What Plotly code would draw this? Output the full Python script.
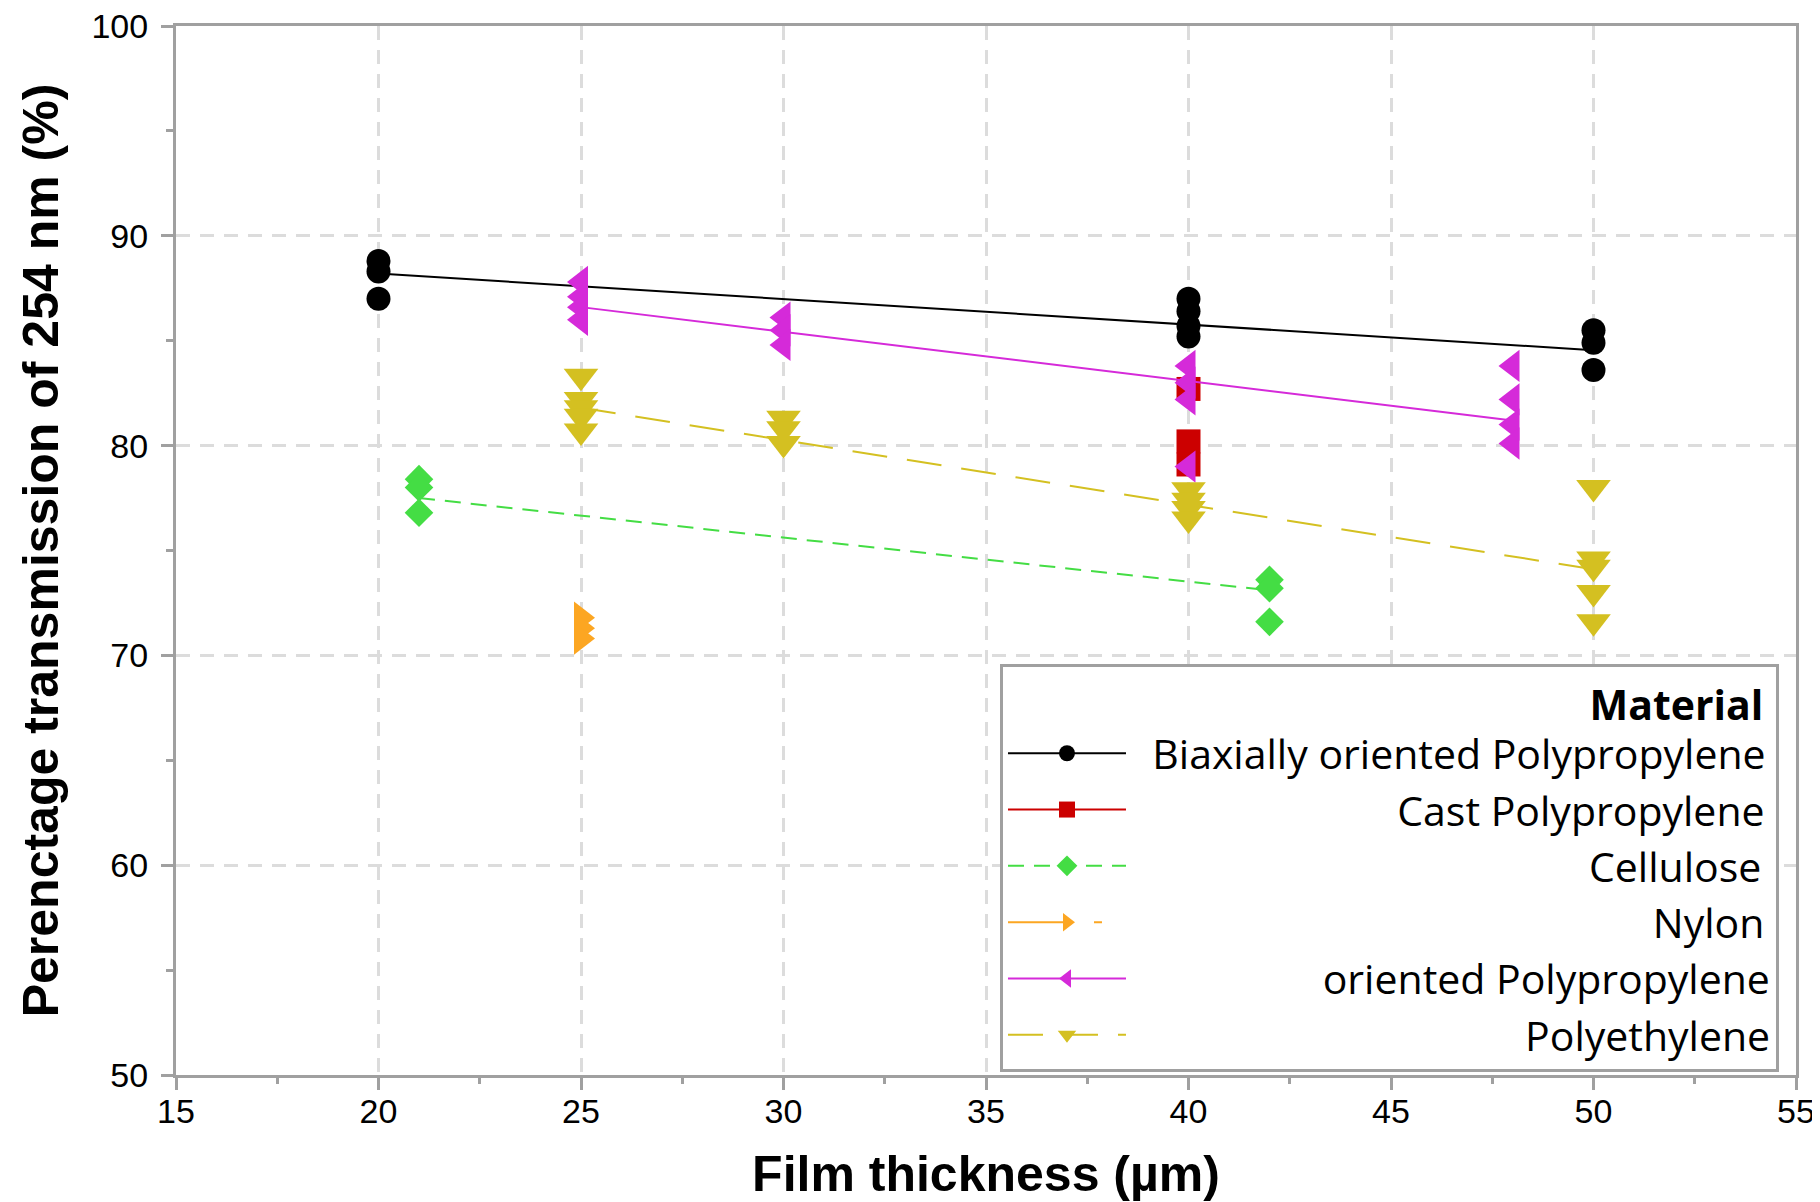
import plotly.graph_objects as go

# ---------------- data ----------------
materials = ["Biaxially oriented Polypropylene", "Cast Polypropylene", "Cellulose",
             "Nylon", "oriented Polypropylene", "Polyethylene"]

bopp_x = [20, 20, 20, 40, 40, 40, 40, 50, 50, 50]
bopp_y = [88.8, 88.3, 87.0, 87.0, 86.4, 85.7, 85.2, 85.5, 84.9, 83.6]
bopp_fit_x = [20, 50]
bopp_fit_y = [88.2, 84.55]

cpp_x = [40, 40, 40]
cpp_y = [82.7, 80.2, 79.1]

cell_x = [21, 21, 21, 42, 42, 42]
cell_y = [78.4, 78.0, 76.8, 73.6, 73.2, 71.6]
cell_fit_x = [21, 42]
cell_fit_y = [77.5, 73.1]

nylon_x = [25, 25, 25]
nylon_y = [71.8, 71.3, 70.8]

opp_x = [25, 25, 25, 25, 30, 30, 30, 40, 40, 40, 40, 48, 48, 48, 48]
opp_y = [87.8, 87.1, 86.6, 86.0, 86.1, 85.5, 84.8, 83.8, 83.0, 82.2, 79.0,
         83.8, 82.2, 81.0, 80.1]
opp_fit_x = [25, 48]
opp_fit_y = [86.6, 81.2]

pe_x = [25, 25, 25, 25, 25, 30, 30, 30, 40, 40, 40, 40, 50, 50, 50, 50, 50]
pe_y = [83.3, 82.2, 81.8, 81.4, 80.7, 81.3, 80.8, 80.1, 77.9, 77.4, 77.0, 76.5,
        78.0, 74.6, 74.2, 73.0, 71.6]
pe_fit_x = [25, 50]
pe_fit_y = [81.8, 74.1]

x_title = "Film thickness (µm)"
y_title = "Perenctage transmission of 254 nm (%)"
legend_title = "Material"

# ---------------- styles ----------------
colors = ["#000000", "#CC0000", "#44DD44", "#FCA622", "#D52AD9", "#D4C021"]
symbols = ["circle", "square", "diamond", "triangle-right", "triangle-left", "triangle-down"]
msizes = [24, 24, 22, 28, 28, 30]
dashes = ["solid", "solid", "16px,10px", "62px,24px,8px,30px", "solid", "35px,20px"]

FONT = "Liberation Sans, Arial, sans-serif"
LEG_FONT = "Open Sans, Liberation Sans, sans-serif"
LEG_FS = 41

# approximate Open Sans advance widths (per 1000 em) for right-aligning legend labels
W = {" ": 260, "B": 642, "C": 615, "N": 738, "P": 591, "a": 556, "d": 614, "e": 561,
     "i": 253, "l": 253, "n": 614, "o": 604, "p": 614, "r": 408, "s": 477, "t": 353,
     "u": 614, "x": 525, "y": 497, "h": 614}


def tw(s):
    return sum(W.get(c, 580) for c in s)


maxw = max(tw(m) for m in materials)


def padded(s):
    n = int(round((maxw - tw(s)) / W[" "]))
    return "\u00a0" * (n + 2) + s


fig = go.Figure()

groups = [
    (bopp_x, bopp_y, bopp_fit_x, bopp_fit_y),
    (cpp_x, cpp_y, None, None),
    (cell_x, cell_y, cell_fit_x, cell_fit_y),
    (nylon_x, nylon_y, None, None),
    (opp_x, opp_y, opp_fit_x, opp_fit_y),
    (pe_x, pe_y, pe_fit_x, pe_fit_y),
]

for i, (gx, gy, fx, fy) in enumerate(groups):
    if fx is not None:
        fig.add_trace(go.Scatter(
            x=fx, y=fy, mode="lines", showlegend=False, hoverinfo="skip",
            line=dict(color=colors[i], width=2, dash=dashes[i]),
            legendgroup=materials[i]))
    fig.add_trace(go.Scatter(
        x=gx, y=gy, mode="markers", showlegend=False, name=materials[i],
        marker=dict(symbol=symbols[i], size=msizes[i], color=colors[i], line=dict(width=0)),
        legendgroup=materials[i]))
    # legend entry (line + marker sample)
    fig.add_trace(go.Scatter(
        x=[None], y=[None], mode="lines+markers", name=padded(materials[i]),
        legendgroup=materials[i],
        line=dict(color=colors[i], width=2, dash=dashes[i]),
        marker=dict(symbol=symbols[i], size=16, color=colors[i], line=dict(width=0))))

axis_common = dict(
    showline=True, linecolor="#A0A0A0", linewidth=3, mirror=True,
    ticks="outside", ticklen=12, tickwidth=3, tickcolor="#A0A0A0",
    showgrid=True, gridcolor="#DCDCDC", gridwidth=3, griddash="14px,10px",
    zeroline=False, ticklabeloverflow="allow",
    tickfont=dict(family=FONT, size=34, color="#000000"),
)

fig.update_xaxes(
    range=[15, 55], dtick=5, tick0=15,
    minor=dict(dtick=2.5, tick0=15, ticks="outside", ticklen=6, tickwidth=3,
               tickcolor="#A0A0A0", showgrid=False),
    title=dict(text=x_title, font=dict(family=FONT, size=50, color="#000000", weight="bold"),
               standoff=35),
    ticklabelstandoff=-8,
    **axis_common)

fig.update_yaxes(
    range=[50, 100], dtick=10, tick0=50,
    minor=dict(dtick=5, tick0=50, ticks="outside", ticklen=7, tickwidth=3,
               tickcolor="#A0A0A0", showgrid=False),
    title=dict(text=y_title, font=dict(family=FONT, size=50, color="#000000", weight="bold"),
               standoff=17),
    ticklabelstandoff=6,
    **axis_common)

# the page body has an 8px margin, so the figure is sized/offset to compensate
fig.update_layout(
    width=1812, height=1194,
    margin=dict(l=168, r=24, t=18, b=127, autoexpand=False),
    paper_bgcolor="#FFFFFF", plot_bgcolor="#FFFFFF",
    font=dict(family=FONT, color="#000000"),
    legend=dict(
        x=0.9895, xanchor="right", y=0.392, yanchor="top",
        bgcolor="#FFFFFF", bordercolor="#A0A0A0", borderwidth=3,
        font=dict(family=LEG_FONT, size=LEG_FS, color="#000000"),
        title=dict(text="<b>" + legend_title + "</b>\u00a0", side="top right",
                   font=dict(family=LEG_FONT, size=LEG_FS, color="#000000")),
        itemwidth=118, tracegroupgap=0, itemsizing="trace",
    ),
)

fig.write_html("out.html")
